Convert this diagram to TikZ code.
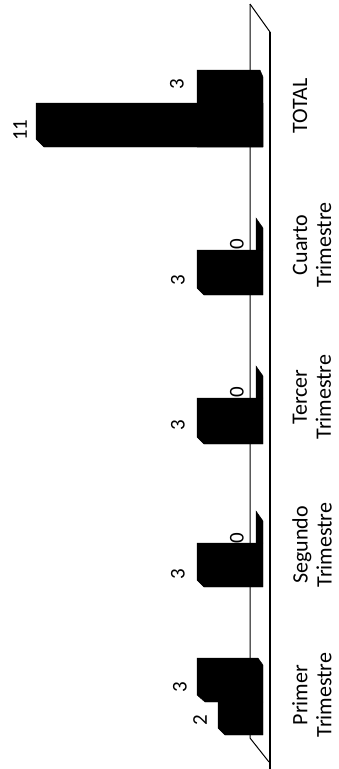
\documentclass[tikz,border=0pt]{standalone}
\usepackage{fontspec}
\setmainfont{Carlito}
\begin{document}
\begin{tikzpicture}[x=1pt,y=-1pt,
  bar/.style={fill=black, draw=black, line width=0.4pt, line join=miter},
  val/.style={rotate=90, font=\fontsize{21}{24}\selectfont, inner sep=0pt},
  cat/.style={rotate=90, align=center, font=\fontsize{22}{24}\selectfont, inner sep=0pt}]
\useasboundingbox (0,0) rectangle (338,769);
% floor
\draw[line width=1pt] (250,4) -- (270,32);
\draw[line width=1.8pt] (270,32) -- (270,769);
\draw[line width=1pt] (250,4) -- (250,738) -- (269,762);
% Primer
\fill[bar] (197,658) -- (258,658) -- (263,665) -- (263,702) -- (205,702) -- (197,695) -- cycle;
\fill[bar] (218,702) -- (263,702) -- (263,735) -- (225,735) -- (218,728) -- cycle;
% Segundo
\fill[bar] (256,511) -- (263,521) -- (263,543) -- (256,543) -- cycle;
\fill[bar] (197,543) -- (263,543) -- (263,587) -- (204,587) -- (197,580) -- cycle;
% Tercer
\fill[bar] (256,366) -- (263,376) -- (263,398) -- (256,398) -- cycle;
\fill[bar] (197,398) -- (263,398) -- (263,444) -- (204,444) -- (197,437) -- cycle;
% Cuarto
\fill[bar] (256,218) -- (263,228) -- (263,250) -- (256,250) -- cycle;
\fill[bar] (197,250) -- (263,250) -- (263,295) -- (204,295) -- (197,288) -- cycle;
% TOTAL
\fill[bar] (197,70) -- (260,70) -- (263,77) -- (263,147) -- (197,147) -- cycle;
\fill[bar] (36,103) -- (263,103) -- (263,147) -- (44,147) -- (36,139) -- cycle;
% value labels
\node[val] (v1a) at (180,687) {3};
\node[val] (v1b) at (200,720) {2};
\node[val] (v2a) at (178,574) {3};
\node[val] (v2b) at (237,538) {0};
\node[val] (v3a) at (178,425) {3};
\node[val] (v3b) at (237,392) {0};
\node[val] (v4a) at (178,280) {3};
\node[val] (v4b) at (237,244) {0};
\node[val] (v5a) at (177,84) {3};
\node[val] (v5b) at (20,130) {11};
% category labels
\node[cat] (c1) at (312,695) {Primer\\Trimestre};
\node[cat] (c2) at (312,545) {Segundo\\Trimestre};
\node[cat] (c3) at (312,397) {Tercer\\Trimestre};
\node[cat] (c4) at (312,245) {Cuarto\\Trimestre};
\node[cat] (c5) at (300,106) {TOTAL};
\end{tikzpicture}
\end{document}
